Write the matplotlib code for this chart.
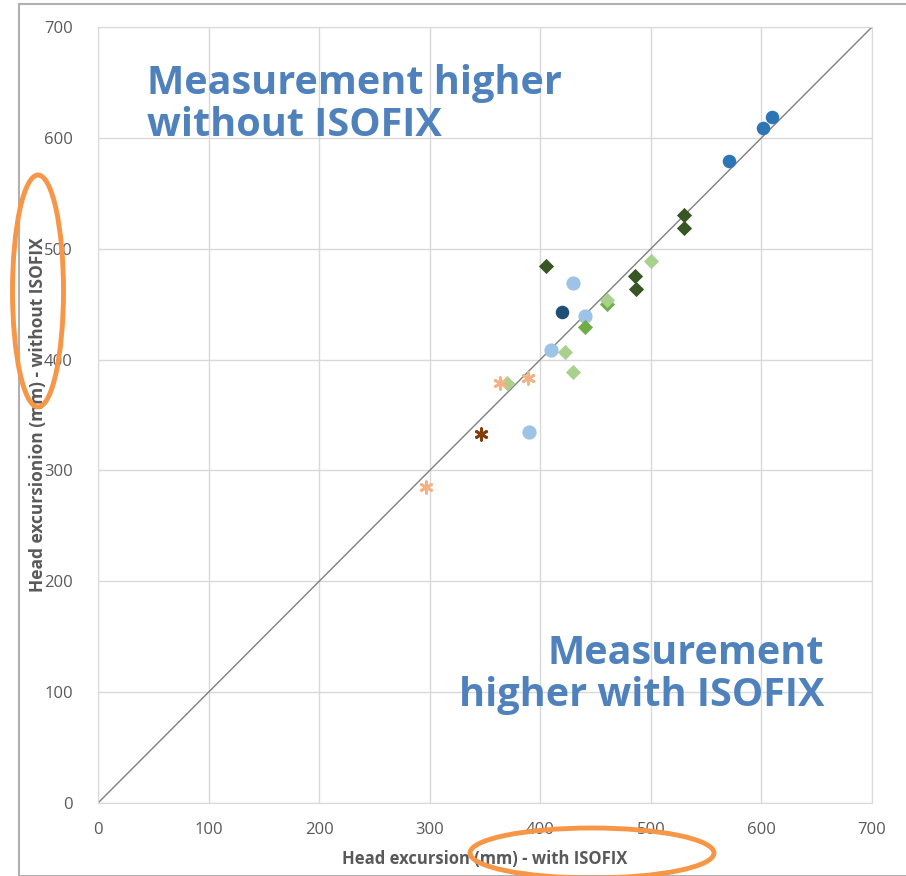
import matplotlib.pyplot as plt
from matplotlib.patches import Ellipse, Rectangle

# data (with ISOFIX, without ISOFIX)
blue_x = [610, 601, 571]
blue_y = [619, 609, 579]
navy_x = [420]
navy_y = [443]
lightblue_x = [430, 440, 410, 390]
lightblue_y = [469, 439, 409, 335]
darkgreen_x = [530, 530, 405, 486, 487]
darkgreen_y = [530, 519, 484, 475, 464]
green_x = [460, 440]
green_y = [450, 429]
lightgreen_x = [500, 460, 422, 430, 370]
lightgreen_y = [489, 454, 407, 389, 379]
orange_x = [364, 389, 297]
orange_y = [379, 383, 285]
brown_x = [346]
brown_y = [333]

ticks = [0, 100, 200, 300, 400, 500, 600, 700]

plt.rcParams['font.family'] = ['Open Sans', 'DejaVu Sans']

fig = plt.figure(figsize=(9.06, 8.76), dpi=100)
ax = fig.add_axes([98/906, 1-803/876, 774/906, 776/876])

ax.plot([0, 700], [0, 700], color='#7f7f7f', lw=1, zorder=1)

ast = (6, 2, 0)
ax.scatter(lightblue_x, lightblue_y, s=105, color='#9DC3E6', zorder=3, linewidths=0)
ax.scatter(blue_x, blue_y, s=95, color='#2E75B6', zorder=3, linewidths=0)
ax.scatter(navy_x, navy_y, s=95, color='#1F4E79', zorder=3, linewidths=0)
ax.scatter(darkgreen_x, darkgreen_y, s=60, marker='D', color='#375623', zorder=3, linewidths=0)
ax.scatter(green_x, green_y, s=60, marker='D', color='#70AD47', zorder=3, linewidths=0)
ax.scatter(lightgreen_x, lightgreen_y, s=60, marker='D', color='#A9D18E', zorder=3, linewidths=0)
ax.scatter(orange_x, orange_y, s=70, marker=ast, color='#F4B183', zorder=3, linewidths=2)
ax.scatter(brown_x, brown_y, s=70, marker=ast, color='#843C0C', zorder=3, linewidths=2)

ax.set_xlim(0, 700)
ax.set_ylim(0, 700)
ax.set_xticks(ticks)
ax.set_yticks(ticks)
ax.grid(True, color='#D9D9D9', lw=1)
ax.set_axisbelow(True)
for s in ax.spines.values():
    s.set_color('#D9D9D9')
ax.tick_params(length=0, labelsize=12, colors='#595959')
ax.tick_params(axis='x', pad=14)
ax.tick_params(axis='y', pad=18)

ax.set_xlabel('Head excursion (mm) - with ISOFIX', fontsize=12, fontweight='bold',
              color='#595959', labelpad=8)
ax.set_ylabel('Head excursionion (mm) - without ISOFIX', fontsize=12.5, fontweight='bold',
              color='#595959', labelpad=-2)

ax.text(0.063, 0.952, 'Measurement higher\nwithout ISOFIX', transform=ax.transAxes,
        ha='left', va='top', fontsize=28.5, fontweight='bold', color='#4F81BD',
        linespacing=1.1)
ax.text(0.938, 0.218, 'Measurement\nhigher with ISOFIX', transform=ax.transAxes,
        ha='right', va='top', fontsize=28.5, fontweight='bold', color='#4F81BD',
        linespacing=1.1, multialignment='right')

# frame and orange highlight ellipses in figure pixels
W, H = 906, 876
fig.patches.append(Rectangle((19/W, 0), 1, 1-4/H, transform=fig.transFigure,
                             fill=False, edgecolor='#B0B0B0', lw=1.5))
fig.patches.append(Ellipse((38/W, 1-291/H), 51/W, 232/H, transform=fig.transFigure,
                           fill=False, edgecolor='#F79646', lw=3.5))
fig.patches.append(Ellipse((592/W, 1-853/H), 244/W, 50/H, transform=fig.transFigure,
                           fill=False, edgecolor='#F79646', lw=3.5))

fig.savefig('out.png', dpi=100)
